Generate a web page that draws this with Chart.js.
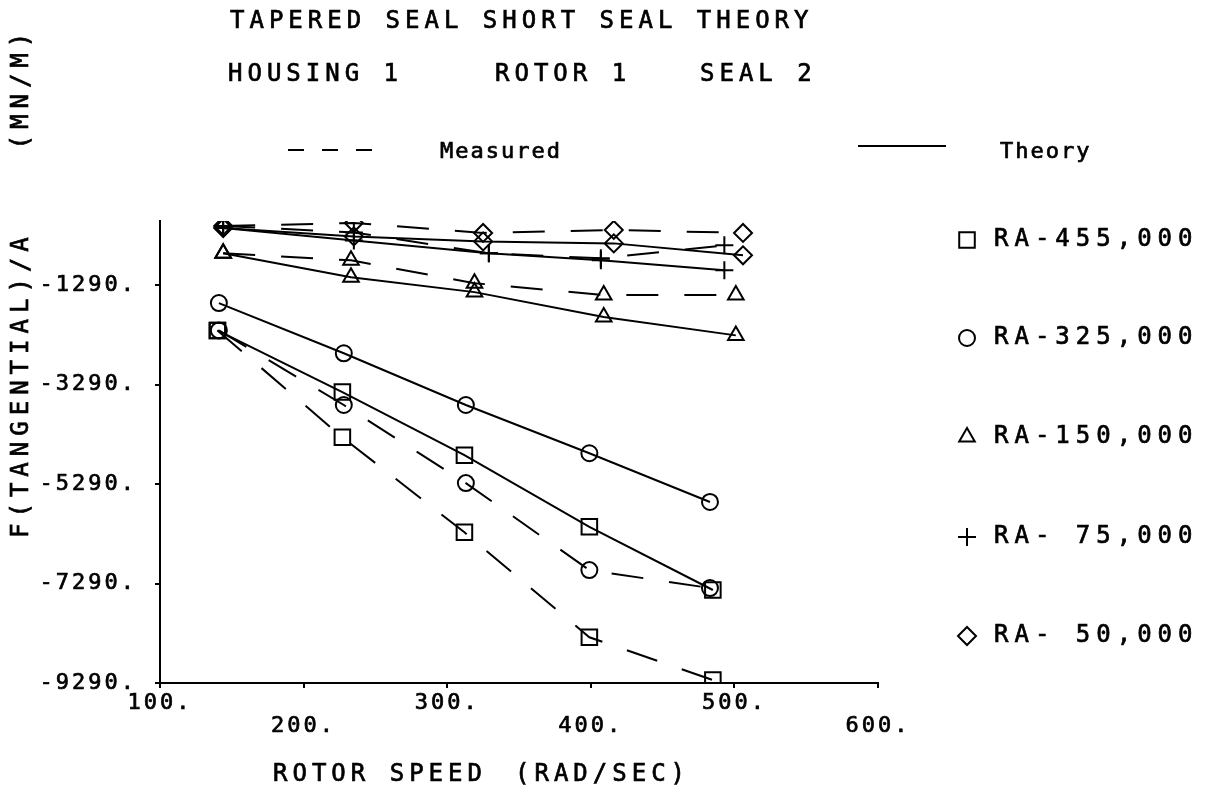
<!DOCTYPE html>
<html>
<head>
<meta charset="utf-8">
<title>Tapered seal short seal theory</title>
<script src="https://cdn.jsdelivr.net/npm/chart.js@4/dist/chart.umd.min.js"></script>
<style>
  html, body { margin: 0; padding: 0; background: #fff; }
  canvas { display: block; }
</style>
</head>
<body>
<canvas id="seal" width="1218" height="791"></canvas>
<script>
// rotor speeds (rad/sec) of each test run
const speedRA455 = [140, 227, 312, 399, 485];
const speedRA325 = [141, 228, 313, 399, 483];
const speedRA150 = [144, 233, 319, 409, 501];
const speedRA75  = [144, 235, 329, 407, 493];
const speedRA50  = [144, 235, 325, 416, 506];

// F(tangential)/A, theory (solid) and measured (dashed)
const theoryRA455   = [-2200, -3440, -4710, -6150, -7420];
const measuredRA455 = [-2200, -4350, -6260, -8370, -9230];
const theoryRA325   = [-1650, -2660, -3700, -4670, -5650];
const measuredRA325 = [-2200, -3700, -5270, -7020, -7380];
const theoryRA150   = [-650, -1130, -1430, -1930, -2300];
const measuredRA150 = [-650, -790, -1250, -1490, -1490];
const theoryRA75    = [-140, -390, -650, -790, -990];
const measuredRA75  = [-100, -230, -650, -750, -490];
const theoryRA50    = [-140, -310, -410, -450, -690];
const measuredRA50  = [-100, -40, -240, -180, -240];

const raLabels = ['RA-455,000', 'RA-325,000', 'RA-150,000', 'RA- 75,000', 'RA- 50,000'];
const raStyles = ['rect', 'circle', 'triangle', 'cross', 'rectRot'];
const raRadius = [11, 8, 9, 9, 9];

const xTicks = [100, 200, 300, 400, 500, 600];
const yTicks = [-9290, -7290, -5290, -3290, -1290];

const MONO = '"DejaVu Sans Mono", monospace';

function pts(xs, ys) {
  return xs.map((x, i) => ({ x: x, y: ys[i] }));
}

function series(label, xs, ys, k, dashed) {
  return {
    label: label + (dashed ? ' measured' : ' theory'),
    data: pts(xs, ys),
    showLine: true,
    borderColor: '#000',
    borderWidth: 2,
    borderDash: dashed ? [32, 26] : [],
    pointStyle: raStyles[k],
    pointRadius: raRadius[k],
    pointBorderWidth: 2,
    pointBorderColor: '#000',
    pointBackgroundColor: 'rgba(0,0,0,0)',
    tension: 0
  };
}

const speeds = [speedRA455, speedRA325, speedRA150, speedRA75, speedRA50];
const theory = [theoryRA455, theoryRA325, theoryRA150, theoryRA75, theoryRA50];
const measured = [measuredRA455, measuredRA325, measuredRA150, measuredRA75, measuredRA50];

const datasets = [];
for (let k = 0; k < raLabels.length; k++) {
  datasets.push(series(raLabels[k], speeds[k], theory[k], k, false));
  datasets.push(series(raLabels[k], speeds[k], measured[k], k, true));
}

// plotter-style text: fill plus a thin outline to thicken the strokes
function penText(ctx, s, x, y) {
  ctx.fillText(s, x, y);
  ctx.strokeText(s, x, y);
}

// titles, key and y-axis caption drawn straight on the canvas
const plotterText = {
  id: 'plotterText',
  beforeDraw(chart) {
    chart.ctx.letterSpacing = '3px';
  },
  afterDraw(chart) {
    const ctx = chart.ctx;
    ctx.save();
    ctx.fillStyle = '#000';
    ctx.strokeStyle = '#000';
    ctx.textBaseline = 'middle';
    ctx.textAlign = 'left';

    ctx.lineWidth = 0.7;
    ctx.font = '24px ' + MONO;
    ctx.letterSpacing = '5px';
    penText(ctx, 'TAPERED SEAL SHORT SEAL THEORY', 230, 22);
    penText(ctx, 'HOUSING 1', 228, 75);
    penText(ctx, 'ROTOR 1', 495, 75);
    penText(ctx, 'SEAL 2', 700, 75);

    ctx.font = '22px ' + MONO;
    ctx.letterSpacing = '2px';
    penText(ctx, 'Measured', 440, 152);
    penText(ctx, 'Theory', 1000, 152);

    // line key
    ctx.lineWidth = 2;
    ctx.setLineDash([16, 18]);
    ctx.beginPath();
    ctx.moveTo(288, 150);
    ctx.lineTo(378, 150);
    ctx.stroke();
    ctx.setLineDash([]);
    ctx.beginPath();
    ctx.moveTo(858, 146);
    ctx.lineTo(946, 146);
    ctx.stroke();

    // symbol key
    const rows = [240, 338, 437, 537, 636];
    for (let k = 0; k < raLabels.length; k++) {
      ctx.lineWidth = 2;
      ctx.fillStyle = 'rgba(0,0,0,0)';
      Chart.helpers.drawPoint(ctx, {
        pointStyle: raStyles[k],
        radius: raRadius[k],
        rotation: 0,
        borderWidth: 2
      }, 967, rows[k]);
      ctx.fillStyle = '#000';
      ctx.lineWidth = 0.7;
      ctx.font = '24px ' + MONO;
      ctx.letterSpacing = '6px';
      penText(ctx, raLabels[k], 994, rows[k]);
    }

    // x-axis caption
    ctx.letterSpacing = '5px';
    penText(ctx, 'ROTOR SPEED', 273, 775);
    penText(ctx, '(RAD/SEC)', 515, 775);

    // y-axis caption
    ctx.translate(22, 538);
    ctx.rotate(-Math.PI / 2);
    ctx.letterSpacing = '6px';
    penText(ctx, 'F(TANGENTIAL)/A    (MN/M)', 0, 0);
    ctx.restore();
  }
};

new Chart(document.getElementById('seal'), {
  type: 'scatter',
  data: { datasets: datasets },
  plugins: [plotterText],
  options: {
    responsive: false,
    animation: false,
    layout: { padding: { top: 221, right: 340, bottom: 0, left: 0 } },
    plugins: {
      legend: { display: false },
      tooltip: { enabled: false }
    },
    scales: {
      x: {
        type: 'linear',
        min: 100,
        max: 600,
        afterBuildTicks: (scale) => { scale.ticks = xTicks.map(v => ({ value: v })); },
        afterFit: (scale) => { scale.height = 108; },
        border: { color: '#000', width: 2 },
        grid: { drawOnChartArea: false, drawTicks: true, tickLength: 5, color: '#000', lineWidth: 2 },
        ticks: {
          color: '#000',
          padding: 4,
          maxRotation: 0,
          autoSkip: false,
          textStrokeColor: '#000',
          textStrokeWidth: 0.7,
          font: { family: MONO, size: 22, lineHeight: 1.05 },
          callback: (v) => {
            const s = v + '.';
            return (v / 100) % 2 === 1 ? [s, ''] : ['', s];
          }
        }
      },
      y: {
        type: 'linear',
        min: -9290,
        max: 0,
        afterBuildTicks: (scale) => { scale.ticks = yTicks.map(v => ({ value: v })); },
        afterFit: (scale) => { scale.width = 160; },
        border: { color: '#000', width: 2 },
        grid: { drawOnChartArea: false, drawTicks: true, tickLength: 5, color: '#000', lineWidth: 2 },
        ticks: {
          color: '#000',
          padding: 18,
          autoSkip: false,
          textStrokeColor: '#000',
          textStrokeWidth: 0.7,
          font: { family: MONO, size: 22 },
          callback: (v) => v + '.'
        }
      }
    }
  }
});
</script>
</body>
</html>
